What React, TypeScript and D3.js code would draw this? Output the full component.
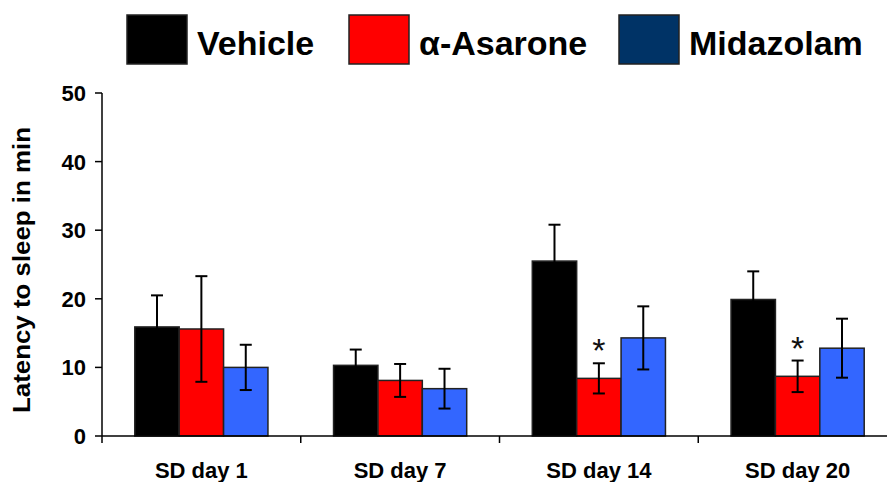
import React from "react";
import * as d3 from "d3";

// Sleep latency per sleep-deprivation day, mean ± error
const days = ["SD day 1", "SD day 7", "SD day 14", "SD day 20"];
const groups = ["Vehicle", "α-Asarone", "Midazolam"];
const vehicleMean = [15.9, 10.3, 25.5, 19.9];
const vehicleErr = [4.6, 2.3, 5.3, 4.1];
const asaroneMean = [15.6, 8.1, 8.4, 8.7];
const asaroneErr = [7.7, 2.4, 2.2, 2.3];
const midazolamMean = [10.0, 6.9, 14.3, 12.8];
const midazolamErr = [3.3, 2.9, 4.6, 4.3];
// significance marks (group index per day)
const significant = [
  { day: 2, group: 1 },
  { day: 3, group: 1 },
];
const yTicks = [0, 10, 20, 30, 40, 50];

const barColors = ["#000000", "#FF0000", "#3366FF"];
const legendColors = ["#000000", "#FF0000", "#003366"];

const W = 887;
const H = 482;
const FONT = "'Liberation Sans', Arial, Helvetica, sans-serif";

export default function App() {
  const means = [vehicleMean, asaroneMean, midazolamMean];
  const errs = [vehicleErr, asaroneErr, midazolamErr];

  const y = d3.scaleLinear().domain([0, 50]).range([436, 93]);
  const x = d3.scaleBand<string>().domain(days).range([102, 897]).paddingInner(0).paddingOuter(0);
  const groupWidth = x.bandwidth() * 0.67;
  const xg = d3
    .scaleBand<string>()
    .domain(groups)
    .range([(x.bandwidth() - groupWidth) / 2, (x.bandwidth() + groupWidth) / 2]);

  const legendBoxes = [127, 349, 619];

  return (
    <svg
      width={W}
      height={H}
      style={{ position: "absolute", left: 0, top: 0, background: "#fff" }}
      fontFamily={FONT}
    >
      {/* legend */}
      {groups.map((g, i) => (
        <g key={g}>
          <rect
            x={legendBoxes[i]}
            y={15}
            width={60}
            height={49}
            fill={legendColors[i]}
            stroke="#222"
            strokeWidth={1.5}
          />
          <text
            x={legendBoxes[i] + 70}
            y={55}
            fontSize={34}
            fontWeight="bold"
            fill="#000"
          >
            {g}
          </text>
        </g>
      ))}

      {/* y axis */}
      <line x1={102} x2={102} y1={y(50)} y2={y(0)} stroke="#000" strokeWidth={1.5} />
      {yTicks.map((t) => (
        <g key={t}>
          <line x1={95} x2={102} y1={y(t)} y2={y(t)} stroke="#000" strokeWidth={1.5} />
          <text
            x={86}
            y={y(t)}
            dy="0.36em"
            textAnchor="end"
            fontSize={22}
            fontWeight="bold"
          >
            {t}
          </text>
        </g>
      ))}
      <text
        transform={`translate(30,270) rotate(-90)`}
        textAnchor="middle"
        fontSize={24}
        fontWeight="bold"
        textLength={286}
        lengthAdjust="spacingAndGlyphs"
      >
        Latency to sleep in min
      </text>

      {/* bars with error bars */}
      {days.map((d, di) => (
        <g key={d} transform={`translate(${x(d)},0)`}>
          {groups.map((g, gi) => {
            const v = means[gi][di];
            const e = errs[gi][di];
            const bx = xg(g)!;
            const bw = xg.bandwidth();
            const cx = bx + bw / 2;
            return (
              <g key={g}>
                <rect
                  x={bx}
                  y={y(v)}
                  width={bw}
                  height={y(0) - y(v)}
                  fill={barColors[gi]}
                  stroke="#222"
                  strokeWidth={1.5}
                />
                <line x1={cx} x2={cx} y1={y(v + e)} y2={y(v - e)} stroke="#000" strokeWidth={2} />
                <line x1={cx - 6} x2={cx + 6} y1={y(v + e)} y2={y(v + e)} stroke="#000" strokeWidth={2} />
                <line x1={cx - 6} x2={cx + 6} y1={y(v - e)} y2={y(v - e)} stroke="#000" strokeWidth={2} />
              </g>
            );
          })}
        </g>
      ))}

      {/* significance asterisks */}
      {significant.map(({ day, group }) => {
        const d = days[day];
        const g = groups[group];
        const cx = x(d)! + xg(g)! + xg.bandwidth() / 2;
        const top = y(means[group][day] + errs[group][day]);
        return (
          <text
            key={`${day}-${group}`}
            x={cx}
            y={top - 1}
            textAnchor="middle"
            fontSize={34}
            fill="#111"
          >
            *
          </text>
        );
      })}

      {/* x axis */}
      <line x1={102} x2={W} y1={y(0)} y2={y(0)} stroke="#000" strokeWidth={1.5} />
      {days.map((d) => (
        <line
          key={d}
          x1={x(d)}
          x2={x(d)}
          y1={y(0)}
          y2={y(0) + 7}
          stroke="#000"
          strokeWidth={1.5}
        />
      ))}
      {days.map((d) => (
        <text
          key={d}
          x={x(d)! + x.bandwidth() / 2}
          y={478}
          textAnchor="middle"
          fontSize={22}
          fontWeight="bold"
        >
          {d}
        </text>
      ))}
    </svg>
  );
}
